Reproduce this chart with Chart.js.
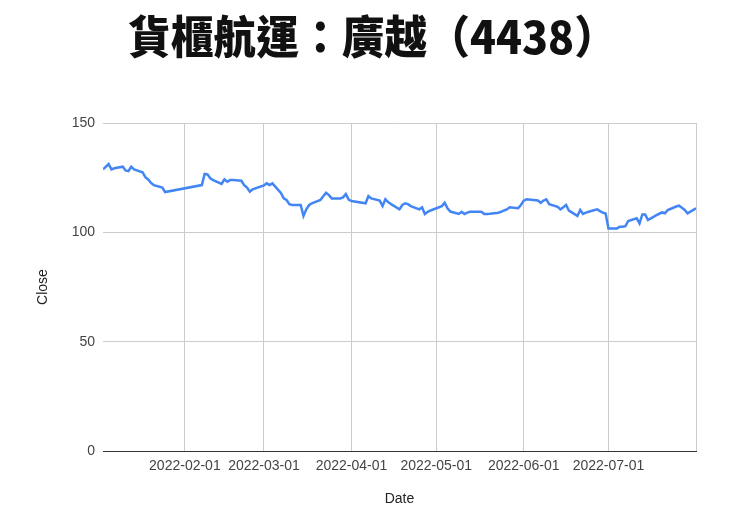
<!DOCTYPE html>
<html>
<head>
<meta charset="utf-8">
<script src="https://cdn.jsdelivr.net/npm/chart.js@4"></script>
<style>
  html, body { margin: 0; padding: 0; background: #fff; }
  #wrap { position: relative; width: 740px; height: 526px; }
  #title {
    position: absolute; left: 128px; top: 12px; margin: 0;
    font-family: "Noto Sans CJK TC", sans-serif; font-weight: 900;
    font-size: 45px; line-height: 45px; color: #111; white-space: nowrap;
    transform: scaleX(0.95); transform-origin: left top;
  }
</style>
</head>
<body>
<div id="wrap">
  <h1 id="title">貨櫃航運：廣越（4438）</h1>
  <canvas id="myChart" width="740" height="526"></canvas>
</div>
<script>
// trading days and closing prices
const dates = [
  '2022-01-03','2022-01-04','2022-01-05','2022-01-06','2022-01-07',
  '2022-01-10','2022-01-11','2022-01-12','2022-01-13','2022-01-14',
  '2022-01-17','2022-01-18','2022-01-19','2022-01-20','2022-01-21',
  '2022-01-24','2022-01-25',
  '2022-02-07','2022-02-08','2022-02-09','2022-02-10','2022-02-11',
  '2022-02-14','2022-02-15','2022-02-16','2022-02-17','2022-02-18',
  '2022-02-21','2022-02-22','2022-02-23','2022-02-24','2022-02-25',
  '2022-03-01','2022-03-02','2022-03-03','2022-03-04',
  '2022-03-07','2022-03-08','2022-03-09','2022-03-10','2022-03-11',
  '2022-03-14','2022-03-15','2022-03-16','2022-03-17','2022-03-18',
  '2022-03-21','2022-03-22','2022-03-23','2022-03-24','2022-03-25',
  '2022-03-28','2022-03-29','2022-03-30','2022-03-31',
  '2022-04-01','2022-04-06','2022-04-07','2022-04-08',
  '2022-04-11','2022-04-12','2022-04-13','2022-04-14','2022-04-15',
  '2022-04-18','2022-04-19','2022-04-20','2022-04-21','2022-04-22',
  '2022-04-25','2022-04-26','2022-04-27','2022-04-28','2022-04-29',
  '2022-05-03','2022-05-04','2022-05-05','2022-05-06',
  '2022-05-09','2022-05-10','2022-05-11','2022-05-12','2022-05-13',
  '2022-05-16','2022-05-17','2022-05-18','2022-05-19','2022-05-20',
  '2022-05-23','2022-05-24','2022-05-25','2022-05-26','2022-05-27',
  '2022-05-30','2022-05-31',
  '2022-06-01','2022-06-02','2022-06-06','2022-06-07','2022-06-08','2022-06-09','2022-06-10',
  '2022-06-13','2022-06-14','2022-06-15','2022-06-16','2022-06-17',
  '2022-06-20','2022-06-21','2022-06-22','2022-06-23','2022-06-24',
  '2022-06-27','2022-06-28','2022-06-29','2022-06-30',
  '2022-07-01','2022-07-04','2022-07-05','2022-07-06','2022-07-07','2022-07-08',
  '2022-07-11','2022-07-12','2022-07-13','2022-07-14','2022-07-15',
  '2022-07-18','2022-07-19','2022-07-20','2022-07-21','2022-07-22',
  '2022-07-25','2022-07-26','2022-07-27','2022-07-28','2022-07-29',
  '2022-08-01'
];
const closes = [
  128.8, 130.0, 131.2, 128.8, 129.3,
  130.0, 128.3, 128.0, 130.0, 128.8,
  127.5, 125.2, 124.2, 122.6, 121.6,
  120.5, 118.4,
  121.6, 126.7, 126.5, 124.7, 123.9,
  122.1, 124.2, 123.1, 123.9, 123.9,
  123.6, 121.6, 120.5, 118.6, 119.7,
  121.5, 122.4, 121.6, 122.4,
  118.0, 115.5, 114.8, 112.9, 112.5,
  112.5, 107.5, 110.5, 112.5, 113.3,
  114.8, 116.5, 118.1, 117.0, 115.5,
  115.5, 116.0, 117.5, 115.0,
  114.3, 113.3, 116.6, 115.5,
  114.5, 112.0, 115.1, 113.8, 112.9,
  110.5, 112.5, 113.3, 112.9, 112.0,
  110.5, 111.4, 108.4, 109.4, 110.0,
  112.0, 113.5, 111.0, 109.5,
  108.4, 109.4, 108.4, 109.0, 109.4,
  109.4, 109.4, 108.4, 108.4, 108.5,
  109.0, 109.4, 110.0, 110.5, 111.5,
  111.0, 112.5,
  114.5, 115.1, 114.6, 113.5, 114.5, 115.1, 112.9,
  111.7, 110.5, 111.5, 112.5, 109.9,
  107.5, 110.2, 108.4, 109.0, 109.4,
  110.5, 109.7, 109.0, 108.6,
  101.8, 101.8, 102.6, 102.6, 102.8, 105.2,
  106.4, 104.1, 108.2, 108.2, 105.6,
  107.9, 108.5, 109.1, 108.7, 110.2,
  111.8, 112.2, 111.2, 110.2, 108.7,
  111.0
];
const monthTicks = ['2022-02-01','2022-03-01','2022-04-01','2022-05-01','2022-06-01','2022-07-01','2022-08-01'];
const yTicks = [0, 50, 100, 150];

const pad2 = n => String(n).padStart(2, '0');
function fmtDate(ms) {
  const d = new Date(ms);
  return d.getUTCFullYear() + '-' + pad2(d.getUTCMonth() + 1) + '-' + pad2(d.getUTCDate());
}

const ctx = document.getElementById('myChart');

const myChart = new Chart(ctx, {
  type: 'line',
  data: {
    datasets: [{
      label: 'Close',
      data: dates.map((d, i) => ({ x: Date.parse(d), y: closes[i] })),
      borderColor: '#4285F4',
      backgroundColor: '#4285F4',
      borderWidth: 2.5,
      pointRadius: 0,
      tension: 0
    }]
  },
  options: {
    responsive: false,
    animation: false,
    layout: { padding: { top: 123, right: 44, bottom: 0, left: 0 } },
    plugins: {
      legend: { display: false },
      tooltip: { enabled: false }
    },
    scales: {
      x: {
        type: 'linear',
        min: Date.parse(dates[0]),
        max: Date.parse(dates[dates.length - 1]),
        afterBuildTicks: scale => {
          scale.ticks = monthTicks.map(t => ({ value: Date.parse(t) }));
        },
        afterFit: scale => { scale.height = 75; },
        ticks: {
          autoSkip: false,
          maxRotation: 0,
          padding: 7,
          color: '#444',
          font: { family: 'Liberation Sans', size: 14 },
          callback: (v) => {
            const s = fmtDate(v);
            return s === monthTicks[monthTicks.length - 1] ? '' : s;
          }
        },
        grid: { color: '#cccccc', drawTicks: false },
        border: { display: true, color: '#333', width: 1 },
        title: {
          display: true,
          text: 'Date',
          color: '#222',
          font: { family: 'Liberation Sans', size: 14 },
          padding: { top: 0, bottom: 18 }
        }
      },
      y: {
        min: 0,
        max: 150,
        afterBuildTicks: scale => {
          scale.ticks = yTicks.map(v => ({ value: v }));
        },
        afterFit: scale => { scale.width = 103; },
        ticks: {
          padding: 8,
          color: '#444',
          font: { family: 'Liberation Sans', size: 14 }
        },
        grid: {
          drawTicks: false,
          color: c => (c.tick && c.tick.value === 0) ? '#333' : '#cccccc'
        },
        border: { display: false },
        title: {
          display: true,
          text: 'Close',
          color: '#222',
          font: { family: 'Liberation Sans', size: 14 },
          padding: { top: 35, bottom: 0 }
        }
      }
    }
  }
});
</script>
</body>
</html>
